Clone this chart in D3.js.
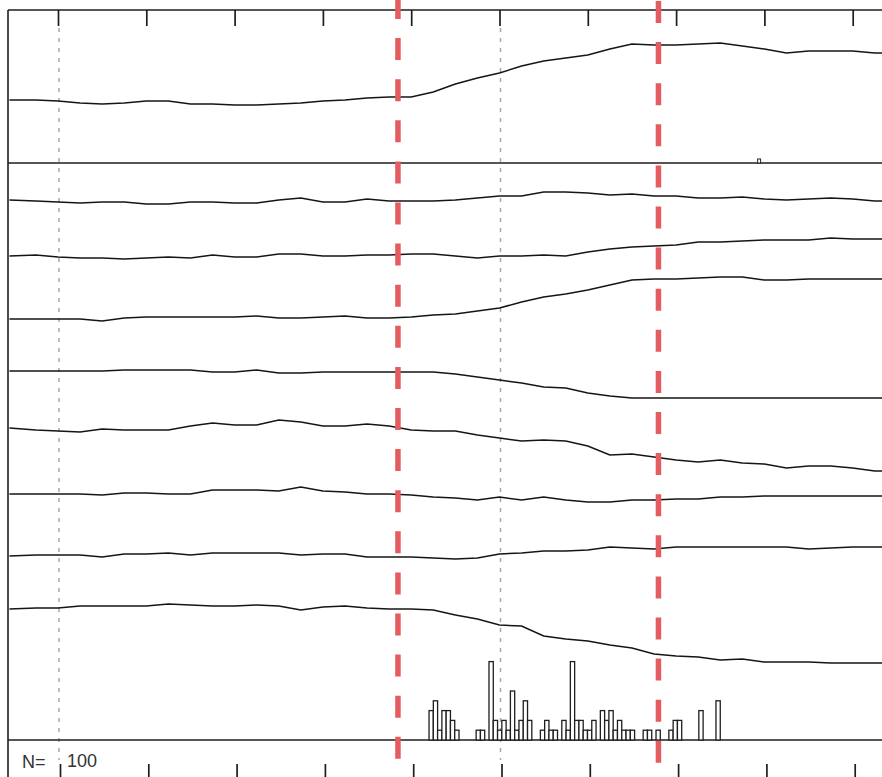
<!DOCTYPE html>
<html>
<head>
<meta charset="utf-8">
<script src="https://cdn.jsdelivr.net/npm/d3@7"></script>
<style>
body { margin: 0; background: #fff; }
svg { display: block; }
</style>
</head>
<body>
<div id="chart"></div>
<script>
// sample times (ms) for all traces
const times = [-55, -25, 0, 25, 50, 75, 100, 125, 150, 175, 200, 225, 250, 275, 300, 325, 350, 375, 400,
    425, 450, 475, 500, 525, 550, 575, 600, 625, 650, 675, 700, 725, 750, 775, 800, 825, 850, 875, 900, 925, 950];

// top panel: averaged trace
const avgTrace = [63, 63, 62, 60, 59, 60, 62, 62, 59, 59, 58, 58, 59, 60, 62, 63, 65, 66, 66, 71, 79,
    85, 90, 97, 102, 105, 108, 114, 119, 118, 118, 119, 120, 117, 114, 110, 112, 112, 112, 110, 110];

// lower panel: single traces, top to bottom
const trace1 = [540, 539, 538, 537, 538, 538, 536, 536, 538, 538, 537, 537, 540, 542, 538, 538, 541, 539, 539, 539, 540,
    542, 544, 544, 548, 548, 547, 545, 546, 544, 544, 542, 542, 543, 541, 540, 541, 542, 541, 539, 539];
const trace2 = [484, 485, 483, 482, 482, 481, 482, 483, 482, 485, 483, 483, 486, 486, 484, 484, 485, 485, 486, 486, 484,
    482, 484, 484, 485, 484, 488, 491, 493, 494, 495, 498, 498, 499, 500, 500, 500, 502, 501, 501, 501];
const trace3 = [421, 421, 421, 421, 419, 422, 423, 423, 423, 423, 423, 424, 422, 422, 423, 424, 422, 422, 423, 425, 426,
    429, 432, 438, 443, 446, 450, 455, 460, 461, 461, 462, 463, 463, 460, 460, 461, 461, 461, 461, 461];
const trace4 = [369, 369, 369, 369, 369, 370, 370, 370, 370, 368, 368, 370, 367, 367, 368, 368, 368, 368, 368, 368, 366,
    363, 360, 357, 353, 352, 347, 344, 342, 342, 342, 342, 342, 342, 342, 342, 342, 342, 342, 342, 342];
const trace5 = [312, 310, 309, 308, 311, 310, 310, 310, 314, 317, 315, 315, 320, 318, 314, 314, 316, 314, 310, 309, 309,
    305, 302, 299, 300, 299, 294, 285, 286, 283, 280, 278, 280, 277, 276, 272, 274, 274, 272, 269, 269];
const trace6 = [246, 246, 246, 246, 245, 247, 247, 246, 246, 250, 250, 250, 249, 253, 249, 248, 246, 246, 245, 243, 242,
    240, 243, 240, 243, 240, 238, 238, 240, 240, 241, 241, 243, 243, 244, 244, 244, 244, 244, 244, 244];
const trace7 = [184, 185, 185, 185, 183, 186, 186, 187, 185, 187, 187, 187, 187, 185, 186, 186, 183, 183, 183, 182, 181,
    182, 186, 187, 189, 189, 190, 193, 192, 191, 193, 193, 193, 193, 193, 193, 191, 192, 193, 193, 193];
const trace8 = [131, 132, 132, 134, 134, 134, 134, 136, 135, 134, 134, 135, 134, 130, 133, 134, 132, 131, 131, 130, 125,
    121, 115, 114, 104, 101, 99, 95, 92, 86, 84, 83, 80, 81, 78, 78, 78, 77, 77, 77, 77];

// histogram at the bottom
const binStart = 420.2;
const binWidth = 4.85;
const binCounts = [3, 4, 1, 3, 3, 2, 1, 0, 0, 0, 0, 1, 1, 0, 8, 2, 1, 2, 1, 5, 1, 2, 4, 2, 0, 0, 1, 2, 1, 1, 0,
    2, 1, 8, 2, 2, 1, 1, 2, 0, 3, 2, 3, 1, 2, 1, 1, 1, 0, 0, 1, 1, 0, 1, 0, 0, 1, 2, 2, 0, 0, 0, 0, 3, 0, 0, 0, 4];

const tickValues = [0, 100, 200, 300, 400, 500, 600, 700, 800, 900];
const refTimes = [0, 500];
const cueTimes = [385, 680];
const markTime = 794;
const nLabel = "N=";
const scaleLabel = "100";

const width = 882, height = 777;
const left = 8;
const topY0 = 10, splitY = 163, baseY = 740;

const svg = d3.select("#chart").append("svg")
    .attr("width", width)
    .attr("height", height);

const x = d3.scaleLinear().domain([0, 900]).range([58, 852.7]);
const yTop = d3.scaleLinear().domain([0, 153]).range([splitY, topY0]);
const yLow = d3.scaleLinear().domain([0, 577]).range([baseY, splitY]);
const yHist = d3.scaleLinear().domain([0, 8]).range([baseY, 661.6]);

// grey dotted reference lines
svg.selectAll("line.ref")
    .data(refTimes)
    .enter().append("line")
    .attr("class", "ref")
    .attr("x1", d => x(d) + 1).attr("x2", d => x(d) + 1)
    .attr("y1", 28).attr("y2", 760)
    .attr("stroke", "#a8a8a8")
    .attr("stroke-width", 1.5)
    .attr("stroke-dasharray", "4,6");

// panel frame
const frame = svg.append("g")
    .attr("stroke", "#1e1e1e")
    .attr("stroke-width", 1.6);
frame.append("line").attr("x1", left).attr("x2", width).attr("y1", topY0).attr("y2", topY0);
frame.append("line").attr("x1", left).attr("x2", width).attr("y1", splitY).attr("y2", splitY);
frame.append("line").attr("x1", left).attr("x2", width).attr("y1", baseY).attr("y2", baseY);
frame.append("line").attr("x1", left).attr("x2", left).attr("y1", topY0).attr("y2", height);

// ticks, top and bottom
const topAxis = d3.axisBottom(x).tickValues(tickValues).tickSize(16).tickFormat("");
svg.append("g")
    .attr("transform", "translate(0," + topY0 + ")")
    .call(topAxis)
    .call(g => g.select(".domain").remove())
    .call(g => g.selectAll("line").attr("stroke", "#1e1e1e").attr("stroke-width", 1.7));

const bottomAxis = d3.axisBottom(x).tickValues(tickValues).tickSize(20).tickFormat("");
svg.append("g")
    .attr("transform", "translate(2,764)")
    .call(bottomAxis)
    .call(g => g.select(".domain").remove())
    .call(g => g.selectAll("line").attr("stroke", "#1e1e1e").attr("stroke-width", 1.7));

// traces
const lineTop = d3.line()
    .x((d, i) => x(times[i]))
    .y(d => yTop(d));
const lineLow = d3.line()
    .x((d, i) => x(times[i]))
    .y(d => yLow(d));

svg.append("defs").append("clipPath").attr("id", "plotClip")
    .append("rect").attr("x", left + 1).attr("y", 0).attr("width", width - left).attr("height", height);

const traceG = svg.append("g").attr("clip-path", "url(#plotClip)");

traceG.append("path")
    .datum(avgTrace)
    .attr("d", lineTop)
    .attr("fill", "none")
    .attr("stroke", "#151515")
    .attr("stroke-width", 1.5);

const lowTraces = [trace1, trace2, trace3, trace4, trace5, trace6, trace7, trace8];
traceG.selectAll("path.trace")
    .data(lowTraces)
    .enter().append("path")
    .attr("class", "trace")
    .attr("d", lineLow)
    .attr("fill", "none")
    .attr("stroke", "#151515")
    .attr("stroke-width", 1.5);

// histogram
const bins = binCounts.map((c, i) => ({
    t0: binStart + i * binWidth,
    t1: binStart + (i + 1) * binWidth,
    count: c
})).filter(d => d.count > 0);

svg.selectAll("rect.bin")
    .data(bins)
    .enter().append("rect")
    .attr("class", "bin")
    .attr("x", d => x(d.t0))
    .attr("width", d => x(d.t1) - x(d.t0))
    .attr("y", d => yHist(d.count))
    .attr("height", d => yHist(0) - yHist(d.count))
    .attr("fill", "#fff")
    .attr("stroke", "#1e1e1e")
    .attr("stroke-width", 1.3);

// small marker on the panel divider
svg.append("rect")
    .attr("x", x(markTime) - 1.5)
    .attr("y", splitY - 4)
    .attr("width", 3)
    .attr("height", 4)
    .attr("fill", "#fff")
    .attr("stroke", "#222")
    .attr("stroke-width", 1);

// red dashed cue lines
svg.selectAll("line.cue")
    .data(cueTimes)
    .enter().append("line")
    .attr("class", "cue")
    .attr("x1", d => x(d)).attr("x2", d => x(d))
    .attr("y1", 0).attr("y2", height)
    .attr("stroke", "#e45c60")
    .attr("stroke-width", 5.5)
    .attr("stroke-dasharray", "22,19.1")
    .attr("stroke-dashoffset", (d, i) => i === 0 ? 3 : -1);

// labels
svg.append("text")
    .attr("x", 22).attr("y", 768)
    .attr("font-family", "Liberation Sans, Arial, sans-serif")
    .attr("font-size", 18)
    .attr("fill", "#333")
    .text(nLabel);
svg.append("text")
    .attr("x", 67).attr("y", 767)
    .attr("font-family", "Liberation Sans, Arial, sans-serif")
    .attr("font-size", 18)
    .attr("fill", "#333")
    .text(scaleLabel);
</script>
</body>
</html>
